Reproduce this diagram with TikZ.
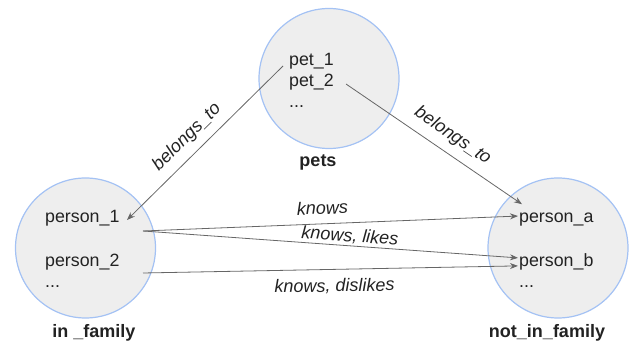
\documentclass[tikz,border=0pt]{standalone}
\usepackage{fontspec}
\setmainfont{Liberation Sans}
\usetikzlibrary{arrows.meta}
\definecolor{setfill}{HTML}{EEEEEE}
\definecolor{setline}{HTML}{A4C2F4}
\definecolor{edgegray}{HTML}{666666}
\definecolor{ink}{HTML}{222222}
\begin{document}
\begin{tikzpicture}[x=1pt,y=-1pt,
  setcirc/.style={circle,draw=setline,fill=setfill,line width=1.2pt,minimum size=140pt,inner sep=0pt},
  item/.style={anchor=base west,inner sep=0pt,font=\fontsize{17.8}{21}\selectfont,text=ink},
  setname/.style={anchor=base,inner sep=0pt,font=\fontsize{18}{21}\selectfont\bfseries,text=ink},
  rel/.style={draw=edgegray,line width=0.8pt,-{Stealth[length=8pt,width=6pt]}},
  rlabel/.style={font=\fontsize{18}{21}\selectfont\itshape,text=ink,inner sep=8pt}]
\useasboundingbox (0,0) rectangle (632,344);

% the three sets
\node[setcirc] (pets) at (329,78.5) {};
\node[setcirc] (fam) at (85.5,248) {};
\node[setcirc] (nfam) at (558,248) {};

% set names
\node[setname] (petsname) at (318,167) {pets};
\node[setname] (famname) at (94,338) {in \_family};
\node[setname] (nfamname) at (547,338) {not\_in\_family};

% members
\node[item] (pet1) at (289,65.5) {pet\_1};
\node[item] (pet2) at (289,87) {pet\_2};
\node[item] (petdots) at (289,108) {...};
\node[item] (p1) at (45,223) {person\_1};
\node[item] (p2) at (45,266.5) {person\_2};
\node[item] (pdots) at (45,288) {...};
\node[item] (pa) at (519,223) {person\_a};
\node[item] (pb) at (519,266.5) {person\_b};
\node[item] (qdots) at (519,288) {...};

% connector end points next to the member names
\coordinate (pet1out) at (283,66);
\coordinate (pet2out) at (346,84);
\coordinate (p1in) at (127,220);
\coordinate (p1out) at (143,231);
\coordinate (p2out) at (143,273);

% relations
\draw[rel] (pet1out) -- node[rlabel,sloped,above,pos=0.54] {belongs\_to} (p1in);
\draw[rel] (pet2out) -- node[rlabel,sloped,above,pos=0.55,inner sep=8.5pt] {belongs\_to} ([shift={(3,-9)}]pa.north west);
\draw[rel] (p1out) -- node[rlabel,sloped,above,pos=0.48,inner sep=9pt] {knows} ([shift={(-1,-4)}]pa.west);
\draw[rel] (p1out) -- node[rlabel,sloped,above,pos=0.55,inner sep=1.5pt] {knows, likes} ([shift={(-1,-4)}]pb.west);
\draw[rel] (p2out) -- node[rlabel,sloped,below,pos=0.51,inner sep=9pt] {knows, dislikes} ([shift={(-1,4)}]pb.west);
\end{tikzpicture}
\end{document}
